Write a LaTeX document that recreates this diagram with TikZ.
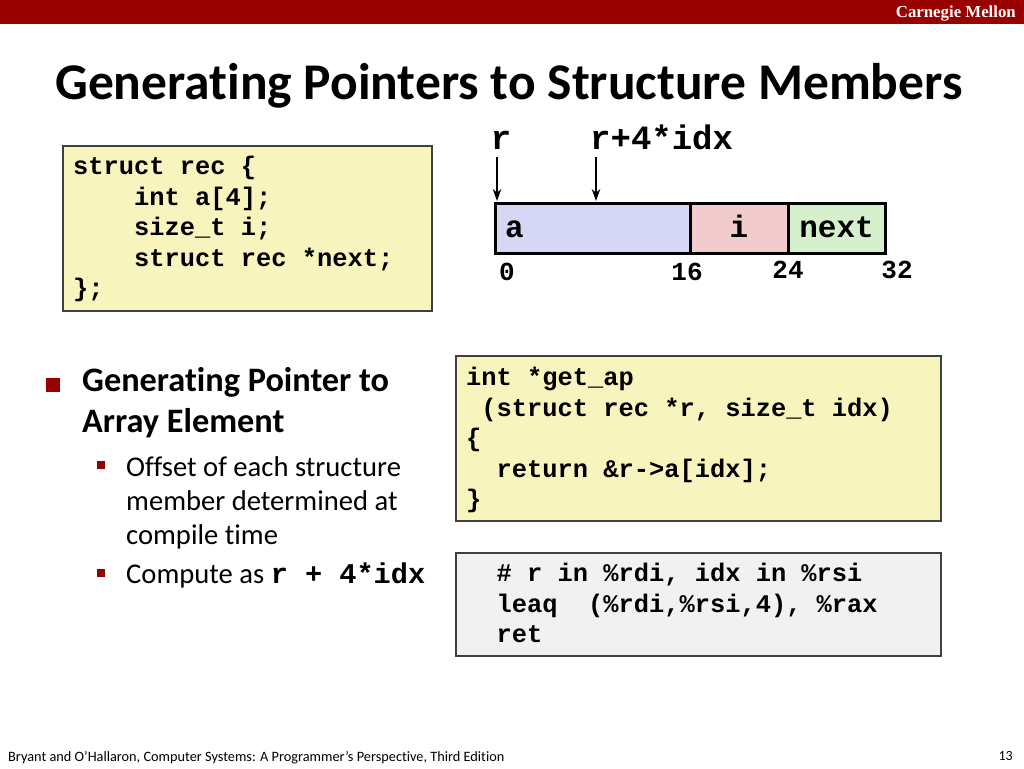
\documentclass[tikz,border=0pt]{standalone}
\usepackage{fontspec}
\setmainfont{Carlito}[Ligatures=NoCommon]
\newfontfamily\codefont{Liberation Mono}
\newfontfamily\cmufont{Liberation Serif}
\usetikzlibrary{positioning, arrows.meta, calc}
\definecolor{cmuRed}{RGB}{153,0,0}
\definecolor{codeYellow}{RGB}{248,244,190}
\definecolor{asmGray}{RGB}{241,241,241}
\definecolor{fieldA}{RGB}{214,214,245}
\definecolor{fieldI}{RGB}{242,204,204}
\definecolor{fieldNext}{RGB}{214,240,206}
\tikzset{
    codebox/.style={
        draw=black!75,
        line width=1.5pt,
        anchor=north west,
        inner sep=0pt
    },
    codetext/.style={
        anchor=north west,
        inner sep=0pt,
        align=left,
        font=\codefont\bfseries\fontsize{25.4}{30.5}\selectfont
    },
    field/.style={
        draw,
        line width=3pt,
        outer sep=0pt,
        minimum height=50pt,
        inner sep=0pt,
        text height=22pt,
        text depth=4pt,
        font=\codefont\bfseries\fontsize{31}{36}\selectfont
    },
    offset/.style={
        anchor=base,
        inner sep=0pt,
        font=\codefont\bfseries\fontsize{26}{30}\selectfont
    },
    ptr/.style={
        -{Stealth[length=12pt,width=8.5pt]},
        line width=2.2pt
    },
    bigbullet/.style={fill=cmuRed, minimum size=14pt, inner sep=0pt},
    smallbullet/.style={fill=cmuRed, minimum size=8.5pt, inner sep=0pt},
    mainpoint/.style={anchor=base west, inner sep=0pt, font=\bfseries\fontsize{34.3}{38}\selectfont},
    subpoint/.style={anchor=base west, inner sep=0pt, font=\fontsize{28.6}{32}\selectfont}
}

\begin{document}
\begin{tikzpicture}[x=1pt, y=-1pt]
    \useasboundingbox (0,0) rectangle (1024,768);

    % Kopfzeile
    \fill[cmuRed] (0,0) rectangle (1024,24);
    \node[anchor=base east, inner sep=0pt, text=white, font=\cmufont\bfseries\fontsize{16.8}{18}\selectfont] (Cmu) at (1016,18) {Carnegie Mellon};
    \node[anchor=base west, inner sep=0pt, font=\bfseries\fontsize{51.5}{58}\selectfont] (Title) at (55,99) {Generating Pointers to Structure Members};

    % struct rec
    \node[codebox, fill=codeYellow, minimum width=369pt, minimum height=165pt] (StructBox) at (62,145) {};
    \node[codetext] (StructCode) at (73,153) {\strut struct rec \{\\
\ \ \ \ int a[4];\\
\ \ \ \ size\_t i;\\
\ \ \ \ struct rec *next;\\
\};};

    % Speicherlayout
    \node[field, fill=fieldA, minimum width=195pt, text width=175pt, align=left, anchor=north west] (FieldA) at (495,203) {a};
    \node[field, fill=fieldI, minimum width=98pt, right=0pt of FieldA] (FieldI) {i};
    \node[field, fill=fieldNext, minimum width=97pt, right=0pt of FieldI] (FieldNext) {next};

    \node[offset] (Off0) at (507,280) {0};
    \node[offset] (Off16) at (687,280) {16};
    \node[offset] (Off24) at (788,278) {24};
    \node[offset] (Off32) at (897,278) {32};

    \node[anchor=base, inner sep=0pt, font=\codefont\bfseries\fontsize{34}{38}\selectfont] (LabR) at (501,149) {r};
    \node[anchor=base west, inner sep=0pt, font=\codefont\bfseries\fontsize{34}{38}\selectfont] (LabRIdx) at (590,149) {r+4*idx};
    \coordinate (TopR) at (497,157);
    \coordinate (TopRIdx) at (596,157);
    \coordinate (TipR) at (497,201);
    \coordinate (TipRIdx) at (596,201);
    \draw[ptr] (TopR) -- (TipR);
    \draw[ptr] (TopRIdx) -- (TipRIdx);

    % Aufzaehlung
    \node[bigbullet] (Bul1) at (52.5,385) {};
    \node[mainpoint] (Pt1a) at (82,391) {Generating Pointer to};
    \node[mainpoint] (Pt1b) at (82,432) {Array Element};
    \node[smallbullet] (Bul2) at (101,465) {};
    \node[subpoint] (Pt2a) at (126,476) {Offset of each structure};
    \node[subpoint] (Pt2b) at (126,510) {member determined at};
    \node[subpoint] (Pt2c) at (126,544) {compile time};
    \node[smallbullet] (Bul3) at (101,573) {};
    \node[subpoint] (Pt3) at (126,583) {Compute as {\codefont\bfseries r + 4*idx}};

    % C-Code
    \node[codebox, fill=codeYellow, minimum width=485pt, minimum height=165pt] (GetApBox) at (455,355) {};
    \node[codetext] (GetApCode) at (466,364) {\strut int *get\_ap\\
\ (struct rec *r, size\_t idx)\\
\{\\
\ \ return \&r->a[idx];\\
\}};

    % Assembler
    \node[codebox, fill=asmGray, minimum width=485pt, minimum height=103pt] (AsmBox) at (455,552) {};
    \node[codetext] (AsmCode) at (466,560) {\strut\ \ \# r in \%rdi, idx in \%rsi\\
\ \ leaq\ \ (\%rdi,\%rsi,4), \%rax\\
\ \ ret};

    % Fusszeile
    \node[anchor=base west, inner sep=0pt, font=\fontsize{14.3}{16}\selectfont] (Foot) at (8,761) {Bryant and O’Hallaron, Computer Systems: A Programmer’s Perspective, Third Edition};
    \node[anchor=base east, inner sep=0pt, font=\fontsize{14}{16}\selectfont] (PageNo) at (1013,760) {13};
\end{tikzpicture}
\end{document}
